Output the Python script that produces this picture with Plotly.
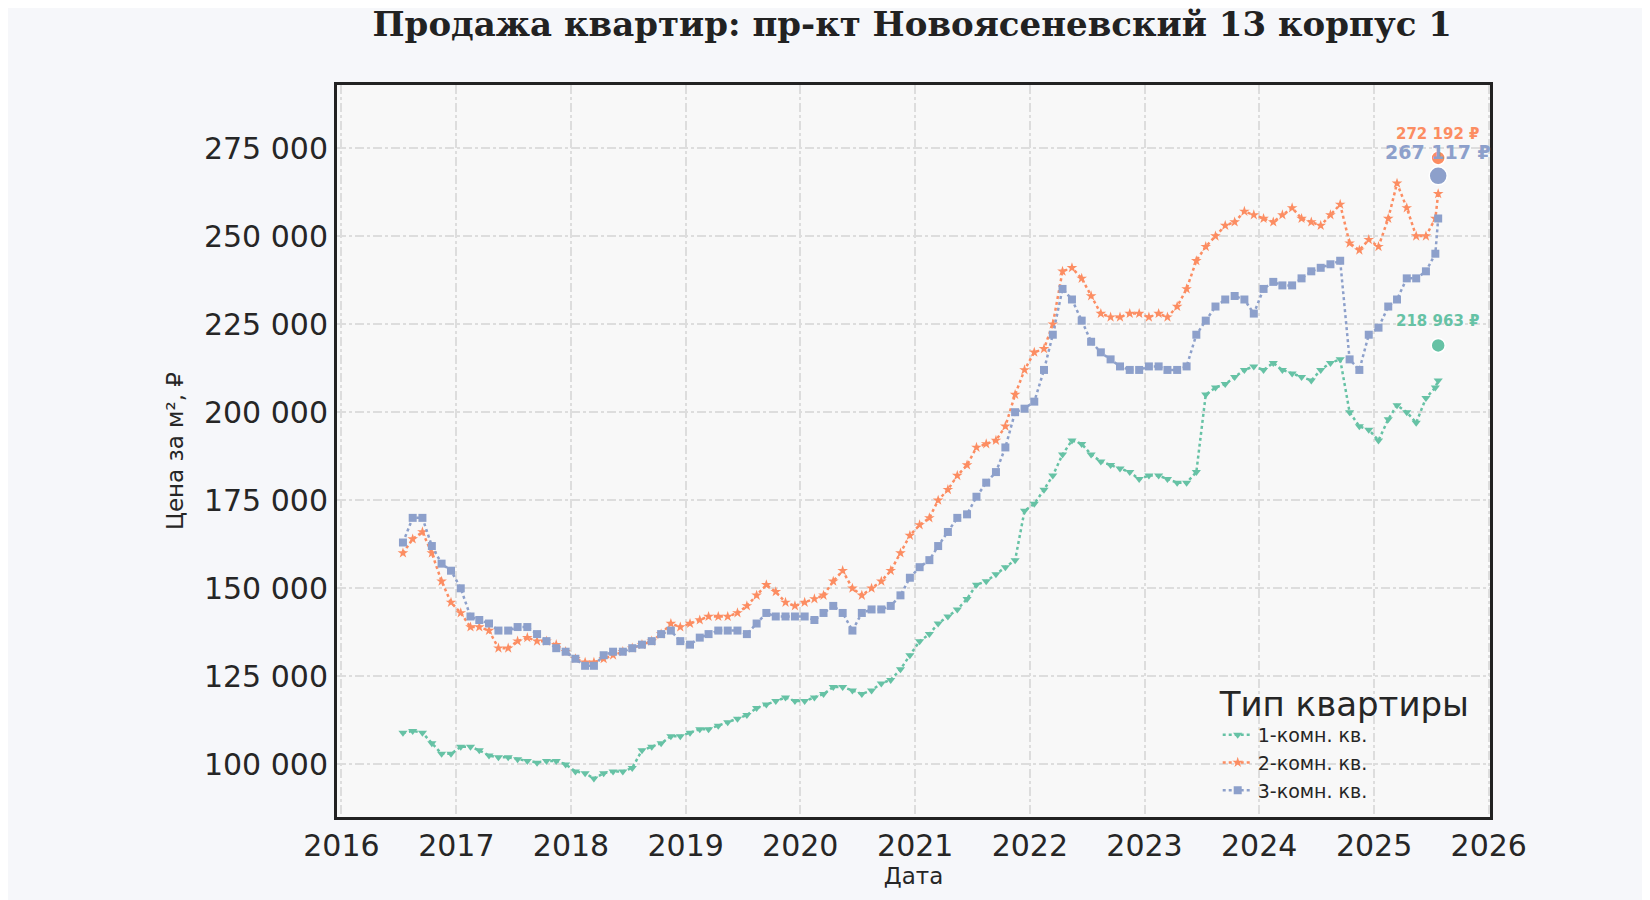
import pandas as pd
import plotly.graph_objects as go

dates = list(pd.date_range("2016-06-15", "2025-07-15", freq="MS") + pd.Timedelta(days=14))
last_date = pd.Timestamp("2025-07-24")

s1 = [109,109.5,109,106,103,103,105,
      105,104,102.5,102,102,101.5,101,100.5,101,101,100,98,
      97.5,96,97.5,98,98,99,104,105,106,108,108,109,
      110,110,111,112,113,114,116,117,118,119,118,118,
      119,120,122,122,121,120,121,123,124,127,131,135,
      137,140,142,144,147,151,152,154,156,158,172,174,
      178,182,188,192,191,188,186,185,184,183,181,182,
      182,181,180,180,183,205,207,208,210,212,213,212,
      214,212,211,210,209,212,214,215,200,196,195,192,
      198,202,200,197,204,207,209]
s2 = [160,164,166,160,152,146,143,
      139,139,138,133,133,135,136,135,135,134,132,130,
      129,129,130,131,132,133,134,135,137,140,139,140,
      141,142,142,142,143,145,148,151,149,146,145,146,
      147,148,152,155,150,148,150,152,155,160,165,168,
      170,175,178,182,185,190,191,192,196,205,212,217,
      218,225,240,241,238,233,228,227,227,228,228,227,
      228,227,230,235,243,247,250,253,254,257,256,255,
      254,256,258,255,254,253,256,259,248,246,249,247,
      255,265,258,250,250,255,262]
s3 = [163,170,170,162,157,155,150,
      142,141,140,138,138,139,139,137,135,133,132,130,
      128,128,131,132,132,133,134,135,137,138,135,134,
      136,137,138,138,138,137,140,143,142,142,142,142,
      141,143,145,143,138,143,144,144,145,148,153,156,
      158,162,166,170,171,176,180,183,190,200,201,203,
      212,222,235,232,226,220,217,215,213,212,212,213,
      213,212,212,213,222,226,230,232,233,232,228,235,
      237,236,236,238,240,241,242,243,215,212,222,224,
      230,232,238,238,240,245,255]
last_vals = [218963, 272192, 267117]
names = ["1-комн. кв.", "2-комн. кв.", "3-комн. кв."]
colors = ["#66c2a5", "#fc8d62", "#8da0cb"]
symbols = ["triangle-down", "star", "square"]
series = [s1, s2, s3]
labels = ["218 963 ₽", "272 192 ₽", "267 117 ₽"]

fig = go.Figure()
for s, lv, n, c, sym in zip(series, last_vals, names, colors, symbols):
    fig.add_trace(go.Scatter(x=dates + [last_date], y=[v*1000 for v in s] + [lv], name=n, mode="lines+markers",
                             line=dict(color=c, width=2.5, dash="dot"),
                             marker=dict(symbol=sym, size=8, color=c)))
for lv, c, lab, fs in zip(last_vals, colors, labels, [15, 15, 19]):
    fig.add_trace(go.Scatter(x=[last_date], y=[lv], mode="markers", showlegend=False,
                             marker=dict(size=18 if fs == 19 else 14, color=c, line=dict(color="white", width=1.5))))
    fig.add_annotation(x=last_date, y=lv, text=f"<b>{lab}</b>", showarrow=False, yshift=24,
                       font=dict(color=c, size=fs, family="DejaVu Sans"))

fig.update_layout(
    width=1650, height=900, paper_bgcolor="#f6f7fa", plot_bgcolor="#f8f8f8",
    margin=dict(l=329, r=168, t=77, b=91),
    title=dict(text="<b>Продажа квартир: пр-кт Новоясеневский 13 корпус 1</b>", x=0.548, y=0.995,
               xanchor="center", yanchor="top", font=dict(family="DejaVu Serif", size=34, color="#222")),
    font=dict(family="DejaVu Sans", color="#262626"),
    legend=dict(x=0.985, y=0.01, xanchor="right", yanchor="bottom", bgcolor="rgba(0,0,0,0)",
                title=dict(text="Тип квартиры", font=dict(size=34)), font=dict(size=19)),
)
fig.update_xaxes(range=[pd.Timestamp("2015-12-18"), pd.Timestamp("2026-01-05")], dtick="M12", tickformat="%Y",
                 tickfont=dict(size=30), title=dict(text="Дата", font=dict(size=23), standoff=6),
                 showgrid=True, gridcolor="#dddddd", griddash="dashdot", gridwidth=1.5,
                 showline=True, linecolor="#222", linewidth=3, mirror=True, ticks="", zeroline=False)
fig.update_yaxes(range=[85070, 292900], tickvals=[100000,125000,150000,175000,200000,225000,250000,275000],
                 ticktext=["100 000","125 000","150 000","175 000","200 000","225 000","250 000","275 000"],
                 tickfont=dict(size=30), title=dict(text="Цена за м², ₽", font=dict(size=23), standoff=14),
                 showgrid=True, gridcolor="#dddddd", griddash="dashdot", gridwidth=1.5,
                 showline=True, linecolor="#222", linewidth=3, mirror=True, ticks="", zeroline=False)
fig.write_html("out.html")
